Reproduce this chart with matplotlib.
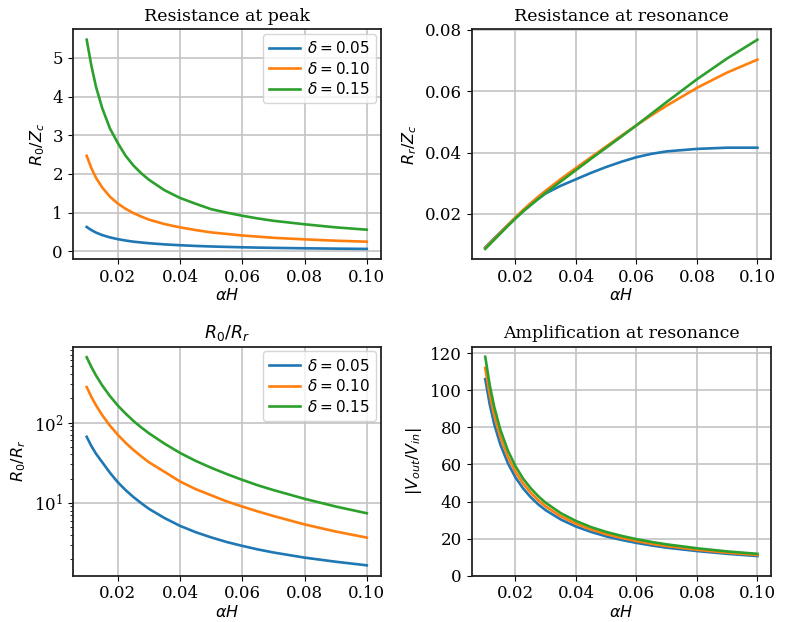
import matplotlib
matplotlib.use("Agg")
import matplotlib.pyplot as plt

plt.rcParams['font.family'] = ['DejaVu Serif']
plt.rcParams['mathtext.fontset'] = 'dejavusans'
plt.rcParams['font.size'] = 11
plt.rcParams['xtick.labelsize'] = 12
plt.rcParams['ytick.labelsize'] = 12

alpha_h = [0.010, 0.0115, 0.013, 0.015, 0.0175, 0.020, 0.0225, 0.025, 0.0275, 0.030,
           0.035, 0.040, 0.045, 0.050, 0.055, 0.060, 0.065, 0.070, 0.080, 0.090, 0.100]
deltas = ["0.05", "0.10", "0.15"]
colors = ["#1f77b4", "#ff7f0e", "#2ca02c"]

# Resistance at peak R0/Zc
r0_zc_005 = [0.63, 0.55, 0.485, 0.42, 0.36, 0.315, 0.28, 0.25, 0.23, 0.21,
             0.18, 0.158, 0.14, 0.126, 0.115, 0.105, 0.097, 0.09, 0.079, 0.07, 0.063]
r0_zc_010 = [2.47, 2.15, 1.90, 1.65, 1.41, 1.235, 1.10, 0.99, 0.90, 0.82,
             0.705, 0.62, 0.55, 0.49, 0.45, 0.41, 0.38, 0.35, 0.31, 0.275, 0.25]
r0_zc_015 = [5.47, 4.80, 4.25, 3.70, 3.17, 2.80, 2.47, 2.22, 2.02, 1.85,
             1.58, 1.38, 1.23, 1.09, 1.00, 0.92, 0.85, 0.79, 0.70, 0.62, 0.56]

# Resistance at resonance Rr/Zc
rr_zc_005 = [0.0091, 0.0106, 0.0121, 0.0140, 0.0164, 0.0187, 0.0209, 0.0229, 0.0249, 0.0267,
             0.0292, 0.0313, 0.0334, 0.0353, 0.0370, 0.0385, 0.0396, 0.0404, 0.0412, 0.0416, 0.0416]
rr_zc_010 = [0.0089, 0.0104, 0.0119, 0.0139, 0.0164, 0.0189, 0.0213, 0.0235, 0.0256, 0.0276,
             0.0314, 0.0350, 0.0385, 0.0420, 0.0455, 0.0489, 0.0522, 0.0553, 0.0611, 0.0661, 0.0703]
rr_zc_015 = [0.0086, 0.0101, 0.0116, 0.0136, 0.0161, 0.0185, 0.0208, 0.0229, 0.0249, 0.0269,
             0.0306, 0.0343, 0.0380, 0.0416, 0.0452, 0.0489, 0.0527, 0.0565, 0.0639, 0.0707, 0.0768]

# R0/Rr
r0_rr_005 = [66.4, 51.0, 40.8, 32.0, 23.6, 18.0, 14.4, 11.8, 9.9, 8.4,
             6.45, 5.15, 4.3, 3.7, 3.24, 2.9, 2.62, 2.4, 2.07, 1.84, 1.66]
r0_rr_010 = [277, 209, 164, 123.5, 91.2, 70.3, 55.9, 45.6, 38.0, 32.0,
             24.3, 18.4, 14.8, 12.4, 10.4, 8.97, 7.79, 6.84, 5.37, 4.38, 3.68]
r0_rr_015 = [652, 493, 386, 290, 213, 163, 129.5, 104.9, 87.1, 73.5,
             54.6, 41.8, 33.3, 27.3, 22.8, 19.3, 16.5, 14.4, 11.2, 8.98, 7.4]

# Amplification |Vout/Vin|
amp_005 = [106, 92.2, 81.5, 70.7, 60.6, 53.0, 47.1, 42.4, 38.5, 35.3,
           30.3, 26.5, 23.6, 21.2, 19.3, 17.7, 16.3, 15.1, 13.3, 11.8, 10.6]
amp_010 = [112, 97.4, 86.2, 74.7, 64.0, 56.0, 49.8, 44.8, 40.7, 37.3,
           32.0, 28.0, 24.9, 22.4, 20.4, 18.7, 17.2, 16.0, 14.0, 12.4, 11.2]
amp_015 = [118, 102.6, 90.8, 78.7, 67.4, 59.0, 52.4, 47.2, 42.9, 39.3,
           33.7, 29.5, 26.2, 23.6, 21.5, 19.7, 18.2, 16.9, 14.8, 13.1, 11.8]

fig = plt.figure(figsize=(7.9, 6.22), dpi=100)
ax1 = fig.add_axes([0.092, 0.583, 0.390, 0.370])
ax2 = fig.add_axes([0.597, 0.583, 0.379, 0.370])
ax3 = fig.add_axes([0.092, 0.0744, 0.390, 0.368])
ax4 = fig.add_axes([0.597, 0.0744, 0.379, 0.368])

lw = 1.9
for ax, series in [
    (ax1, [r0_zc_005, r0_zc_010, r0_zc_015]),
    (ax2, [rr_zc_005, rr_zc_010, rr_zc_015]),
    (ax3, [r0_rr_005, r0_rr_010, r0_rr_015]),
    (ax4, [amp_005, amp_010, amp_015]),
]:
    for d, c, s in zip(deltas, colors, series):
        ax.plot(alpha_h, s, color=c, lw=lw, label=r"$\delta = %s$" % d)
    ax.grid(True, color="#c4c4c4", lw=1.2)
    ax.set_axisbelow(True)
    for sp in ax.spines.values():
        sp.set_linewidth(1.3)
        sp.set_color("#222222")
    ax.set_xticks([0.02, 0.04, 0.06, 0.08, 0.10])
    ax.set_xticklabels(["0.02", "0.04", "0.06", "0.08", "0.10"])
    ax.set_xlabel(r"$\alpha H$", fontsize=11.5, labelpad=1)

ax3.set_yscale("log")
ax4.set_ylim(bottom=0)
ax4.set_yticks([0, 20, 40, 60, 80, 100, 120])
ax2.set_yticks([0.02, 0.04, 0.06, 0.08])

ax1.set_title("Resistance at peak", fontsize=12.5)
ax2.set_title("Resistance at resonance", fontsize=12.5)
ax3.set_title(r"$R_0/R_r$", fontsize=12.5)
ax4.set_title("Amplification at resonance", fontsize=12.5)

ax1.set_ylabel(r"$R_0/Z_c$", fontsize=11.5)
ax2.set_ylabel(r"$R_r/Z_c$", fontsize=11.5)
ax3.set_ylabel(r"$R_0/R_r$", fontsize=11.5)
ax4.set_ylabel(r"$|V_{out}/V_{in}|$", fontsize=11.5)

for ax in (ax1, ax3):
    ax.legend(loc="upper right", fontsize=11, labelspacing=0.3,
              handletextpad=0.5, handlelength=2.0, borderaxespad=0.3)

fig.savefig("out.png", dpi=100)
